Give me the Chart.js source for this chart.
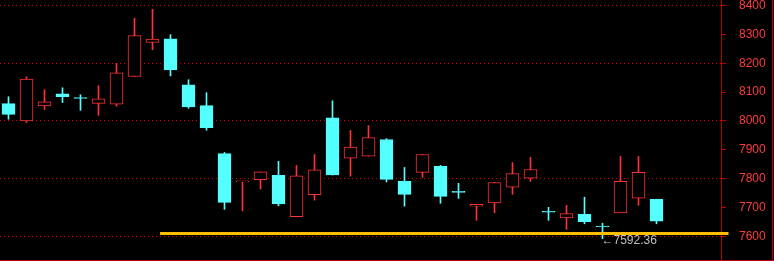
<!DOCTYPE html>
<html><head><meta charset="utf-8">
<script src="https://cdn.jsdelivr.net/npm/chart.js@4"></script>
<style>
html,body{margin:0;padding:0;background:#000;}
#wrap{position:relative;width:774px;height:261px;background:#000;overflow:hidden}
#c{position:absolute;left:0;top:0}
.frame{position:absolute;background:#c00000}
</style></head><body>
<div id="wrap">
<canvas id="c" width="774" height="260"></canvas>
<div class="frame" style="left:0;top:260px;width:774px;height:1px"></div>
<div class="frame" style="left:772px;top:0;width:1px;height:261px"></div>
</div>
<script>
// candle index (sessions)
const categories = [0,1,2,3,4,5,6,7,8,9,10,11,12,13,14,15,16,17,18,19,20,21,22,23,24,25,26,27,28,29,30,31,32,33,34,35,36];
const openValues  = [8060,8000,8052,8094,8079,8061,8058,8154,8272,8285,8125,8053,7887,7789,7797,7812,7669,7745,8011,7871,7878,7936,7791,7822,7843,7754,7705,7716,7771,7802,7685,7664,7677,7634,7682,7733,7729];
const highValues  = [8084,8153,8108,8115,8091,8122,8200,8356,8387,8299,8143,8098,7891,7791,7824,7860,7846,7884,8070,7967,7984,7939,7839,7884,7846,7784,7711,7787,7856,7874,7701,7708,7736,7646,7877,7877,7729];
const lowValues   = [8006,7995,8040,8064,8037,8020,8051,8154,8247,8156,8044,7968,7694,7689,7764,7706,7669,7726,7813,7809,7878,7789,7705,7805,7715,7732,7656,7682,7746,7791,7656,7625,7644,7592.36,7682,7708,7644];
const closeValues = [8023,8145,8066,8084,8078,8077,8167,8296,8284,8177,8049,7977,7718,7790,7824,7713,7810,7831,7813,7910,7943,7798,7746,7884,7739,7753,7711,7787,7818,7832,7684,7679,7651,7633,7791,7822,7653];
const yTickValues = [7600,7700,7800,7900,8000,8100,8200,8300,8400];
const gridValues = [7600,7800,8000,8200,8400];
const supportLevel = 7610;
const supportFrom = 8.42;
const supportTo = 40.0;
const lowMarkIndex = 33;

const UP = '#ff3333', DOWN = '#54ffff';
const isUp = categories.map(i => closeValues[i] >= openValues[i]);
const candleColors = categories.map(i => isUp[i] ? UP : DOWN);
const bodyFill = categories.map(i => isUp[i] ? '#000000' : DOWN);
const bodies = categories.map(i => ({x: i, y: [openValues[i], closeValues[i]]}));
const wicks = categories.map(i => ({x: i, y: [lowValues[i], highValues[i]]}));

const lowLabel = {
  id: 'lowLabel',
  afterDatasetsDraw(chart) {
    const ctx = chart.ctx;
    const x = chart.scales.x.getPixelForValue(categories[lowMarkIndex]);
    const y = chart.scales.y.getPixelForValue(lowValues[lowMarkIndex]);
    ctx.save();
    ctx.font = '12px "Liberation Sans", Arial, sans-serif';
    ctx.fillStyle = '#c0c0c0';
    ctx.textAlign = 'left';
    ctx.textBaseline = 'middle';
    ctx.fillText('\u2190' + lowValues[lowMarkIndex].toFixed(2), x - 1, y + 1.5);
    ctx.restore();
  }
};

new Chart(document.getElementById('c'), {
  type: 'bar',
  data: {
    datasets: [
      { type: 'line', data: [{x: supportFrom, y: supportLevel}, {x: supportTo, y: supportLevel}],
        borderColor: '#ffbf00', borderWidth: 3, pointRadius: 0, clip: false, order: 0 },
      { type: 'bar', data: bodies, backgroundColor: bodyFill, borderColor: candleColors,
        borderWidth: 1, borderSkipped: false, barThickness: 13, minBarLength: 1, grouped: false, order: 1 },
      { type: 'bar', data: wicks, backgroundColor: candleColors, borderWidth: 0,
        barThickness: 1, grouped: false, order: 2 }
    ]
  },
  options: {
    responsive: false, animation: false, devicePixelRatio: 1,
    layout: { padding: 0 },
    plugins: { legend: { display: false }, tooltip: { enabled: false } },
    scales: {
      x: { type: 'linear', display: false, min: -0.4722, max: 39.5833, offset: false },
      y: {
        type: 'linear', position: 'right', min: 7518.6, max: 8419.05,
        afterBuildTicks: s => { s.ticks = yTickValues.map(v => ({value: v})); },
        afterFit: s => { s.width = 53; s.paddingTop = 0; s.paddingBottom = 0; },
        ticks: {
          color: '#ff3c3c', padding: 13,
          font: { family: '"Liberation Sans", Arial, sans-serif', size: 12 },
          callback: v => String(v)
        },
        grid: {
          display: true, drawOnChartArea: true,
          color: c => gridValues.includes(yTickValues[c.index]) ? '#e00000' : 'rgba(0,0,0,0)',
          tickColor: '#c00000', tickLength: 5, lineWidth: 1, drawTicks: true
        },
        border: { display: true, color: '#c00000', width: 1, dash: [1, 3] }
      }
    }
  },
  plugins: [lowLabel]
});
</script>
</body></html>
